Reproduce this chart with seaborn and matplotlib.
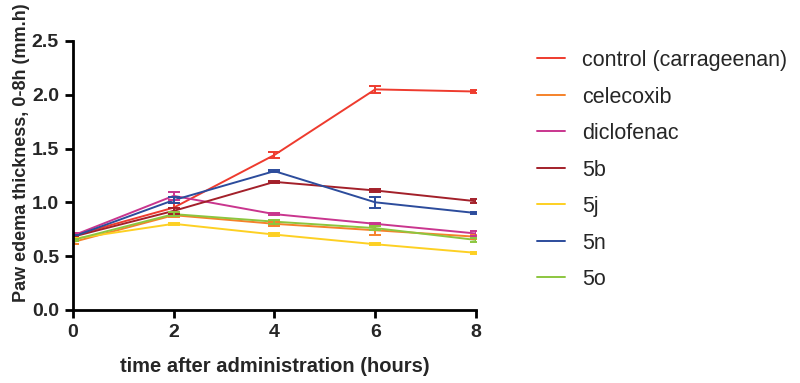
import numpy as np
import pandas as pd
import seaborn as sns
import matplotlib.pyplot as plt

# time points (hours)
hours = [0, 2, 4, 6, 8]

groups = ["control (carrageenan)", "celecoxib", "diclofenac", "5b", "5j", "5n", "5o"]

# mean paw edema thickness (mm)
control = [0.69, 0.95, 1.44, 2.05, 2.03]
celecoxib = [0.63, 0.88, 0.80, 0.74, 0.68]
diclofenac = [0.69, 1.06, 0.89, 0.80, 0.71]
b5 = [0.68, 0.92, 1.19, 1.11, 1.01]
j5 = [0.66, 0.80, 0.70, 0.61, 0.53]
n5 = [0.68, 1.02, 1.29, 1.00, 0.90]
o5 = [0.65, 0.89, 0.82, 0.76, 0.65]

# SEM
control_err = [0.02, 0.04, 0.03, 0.03, 0.01]
celecoxib_err = [0.02, 0.02, 0.02, 0.04, 0.02]
diclofenac_err = [0.02, 0.04, 0.01, 0.01, 0.02]
b5_err = [0.01, 0.03, 0.01, 0.01, 0.02]
j5_err = [0.01, 0.01, 0.01, 0.01, 0.01]
n5_err = [0.02, 0.03, 0.01, 0.05, 0.01]
o5_err = [0.01, 0.02, 0.02, 0.02, 0.02]

colors = ["#EE3B2E", "#F5822A", "#C9358E", "#A3202A", "#FDD023", "#2C4C9C", "#8CC63F"]

means = [control, celecoxib, diclofenac, b5, j5, n5, o5]
errs = [control_err, celecoxib_err, diclofenac_err, b5_err, j5_err, n5_err, o5_err]

rows = []
for g, m, e in zip(groups, means, errs):
    for h, v, s in zip(hours, m, e):
        rows.append({"group": g, "hours": h, "thickness": v, "sem": s})
df = pd.DataFrame(rows)

sns.set_style("ticks")
plt.rcParams['font.family'] = ['Liberation Sans', 'DejaVu Sans']

fig = plt.figure(figsize=(8, 3.83), dpi=100)
ax = fig.add_axes([0.091, 0.191, 0.504, 0.702])

palette = dict(zip(groups, colors))
sns.lineplot(data=df, x="hours", y="thickness", hue="group", palette=palette,
             hue_order=groups, errorbar=None, linewidth=1.4, ax=ax)

for g in groups:
    sub = df[df["group"] == g]
    ax.errorbar(sub["hours"], sub["thickness"], yerr=sub["sem"], fmt="none",
                ecolor=palette[g], elinewidth=1.4, capsize=4, capthick=1.4)

ax.set_xlim(0, 8)
ax.set_ylim(0, 2.5)
ax.set_xticks([0, 2, 4, 6, 8])
ax.set_yticks([0.0, 0.5, 1.0, 1.5, 2.0, 2.5])
ax.set_yticklabels(["0.0", "0.5", "1.0", "1.5", "2.0", "2.5"])
for lab in ax.get_xticklabels() + ax.get_yticklabels():
    lab.set_fontweight("bold")
    lab.set_fontsize(14)
ax.tick_params(width=2, length=6, color="black", pad=4)
for side in ["left", "bottom"]:
    ax.spines[side].set_linewidth(2)
    ax.spines[side].set_color("black")
sns.despine(ax=ax)

ax.set_xlabel("time after administration (hours)", fontsize=14.5, fontweight="bold", labelpad=12)
ax.set_ylabel("Paw edema thickness, 0-8h (mm.h)", fontsize=13, fontweight="bold", labelpad=1)
ax.yaxis.label.set_y(0.583)

leg = ax.legend(loc="upper left", bbox_to_anchor=(0.647, 0.92), bbox_transform=fig.transFigure,
                frameon=False, fontsize=15.5, handlelength=1.3, labelspacing=0.72,
                handletextpad=0.8)

fig.savefig("out.png", dpi=100)
